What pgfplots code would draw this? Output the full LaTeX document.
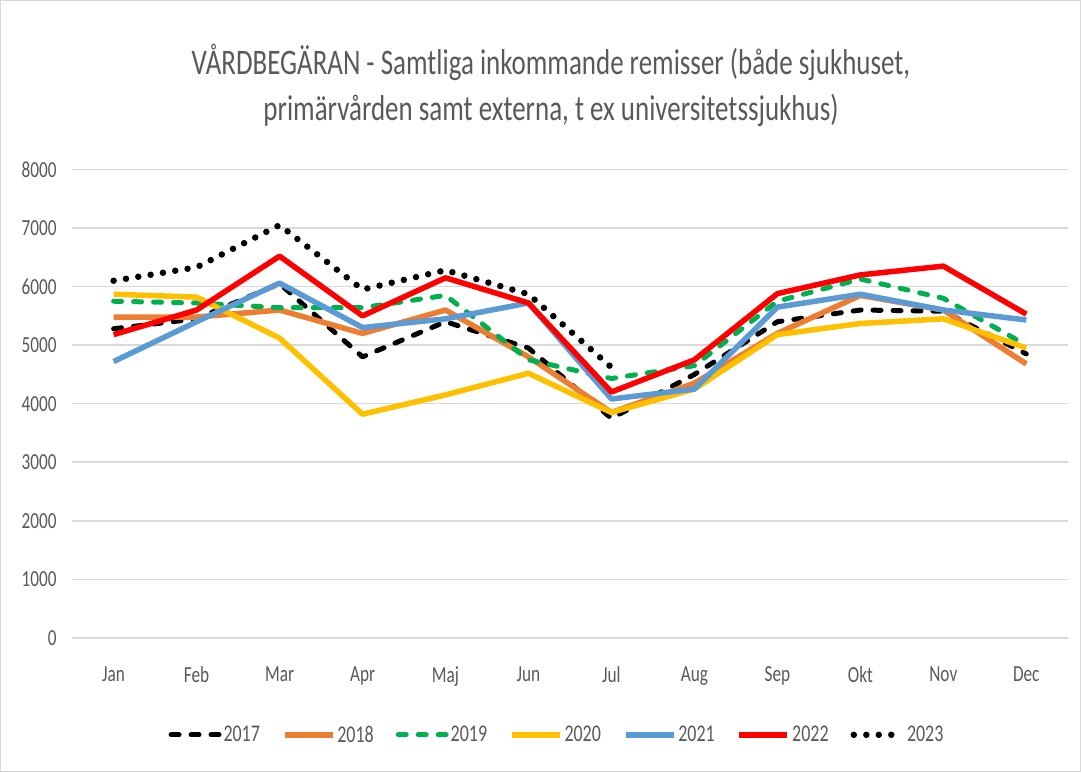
\documentclass[border=0pt]{standalone}
\usepackage{pgfplots}
\pgfplotsset{compat=1.18}
\usepackage{fontspec}
\setmainfont{Carlito}[FakeStretch=0.75]
\definecolor{txt}{HTML}{595959}
\definecolor{grd}{HTML}{D9D9D9}
\definecolor{c18}{HTML}{ED7D31}
\definecolor{c19}{HTML}{00B050}
\definecolor{c20}{HTML}{FFC000}
\definecolor{c21}{HTML}{5B9BD5}
\definecolor{c22}{HTML}{FF0000}
\begin{document}
\begin{tikzpicture}[x=1pt,y=1pt]
\draw[grd, line width=1.5pt, fill=white] (0,0) rectangle (1081,772);
\node[text=txt, font=\fontsize{36}{46}\selectfont, align=center] at (551,687)
  {VÅRDBEGÄRAN - Samtliga inkommande remisser (både sjukhuset,\\primärvården samt externa, t ex universitetssjukhus)};
\begin{axis}[
  at={(71.5pt,134pt)}, anchor=south west,
  width=997pt, height=469pt, scale only axis,
  xmin=-0.5, xmax=11.5, ymin=0, ymax=8000,
  xtick={0,...,11},
  xticklabels={Jan,Feb,Mar,Apr,Maj,Jun,Jul,Aug,Sep,Okt,Nov,Dec},
  ytick={0,1000,...,8000},
  axis line style={draw=none},
  major tick length=0pt,
  ymajorgrids, grid style={grd, line width=1.5pt},
  tick label style={text=txt, font=\fontsize{23}{26}\selectfont},
  /pgf/number format/assume math mode=true,
  /pgf/number format/1000 sep={},
  yticklabel style={xshift=-12pt},
  xticklabel style={yshift=-25pt},
  legend style={at={(0.487,-0.207)}, anchor=center, draw=none, fill=none,
    legend columns=7, font=\fontsize{24}{26}\selectfont, text=txt,
    /tikz/every even column/.append style={column sep=20pt}},
  legend image code/.code={\draw[#1] (0pt,0pt) -- (48pt,0pt);},
  every axis plot/.append style={line join=round},
]
\addplot[black, line width=5pt, line cap=round, dash pattern=on 8pt off 12pt] coordinates {
(0,5280)(1,5450)(2,6050)(3,4800)(4,5400)(5,4950)(6,3750)(7,4500)(8,5400)(9,5600)(10,5580)(11,4850)};
\addlegendentry{2017}
\addplot[c18, line width=5.5pt] coordinates {
(0,5480)(1,5480)(2,5600)(3,5200)(4,5600)(5,4800)(6,3850)(7,4350)(8,5200)(9,5850)(10,5600)(11,4680)};
\addlegendentry{2018}
\addplot[c19, line width=5pt, line cap=round, dash pattern=on 8pt off 12pt] coordinates {
(0,5750)(1,5720)(2,5640)(3,5640)(4,5850)(5,4750)(6,4430)(7,4650)(8,5750)(9,6130)(10,5800)(11,5000)};
\addlegendentry{2019}
\addplot[c20, line width=5.5pt] coordinates {
(0,5870)(1,5820)(2,5120)(3,3820)(4,4150)(5,4520)(6,3850)(7,4250)(8,5180)(9,5370)(10,5450)(11,4950)};
\addlegendentry{2020}
\addplot[c21, line width=5.5pt] coordinates {
(0,4720)(1,5400)(2,6060)(3,5300)(4,5450)(5,5720)(6,4080)(7,4250)(8,5650)(9,5870)(10,5600)(11,5430)};
\addlegendentry{2021}
\addplot[c22, line width=5.5pt] coordinates {
(0,5180)(1,5600)(2,6520)(3,5500)(4,6150)(5,5720)(6,4200)(7,4750)(8,5880)(9,6200)(10,6350)(11,5530)};
\addlegendentry{2022}
\addplot[black, line width=6.5pt, line cap=round, dash pattern=on 0pt off 12.5pt] coordinates {
(0,6100)(1,6330)(2,7050)(3,5950)(4,6280)(5,5870)(6,4620)};
\addlegendentry{2023}
\end{axis}
\end{tikzpicture}
\end{document}
